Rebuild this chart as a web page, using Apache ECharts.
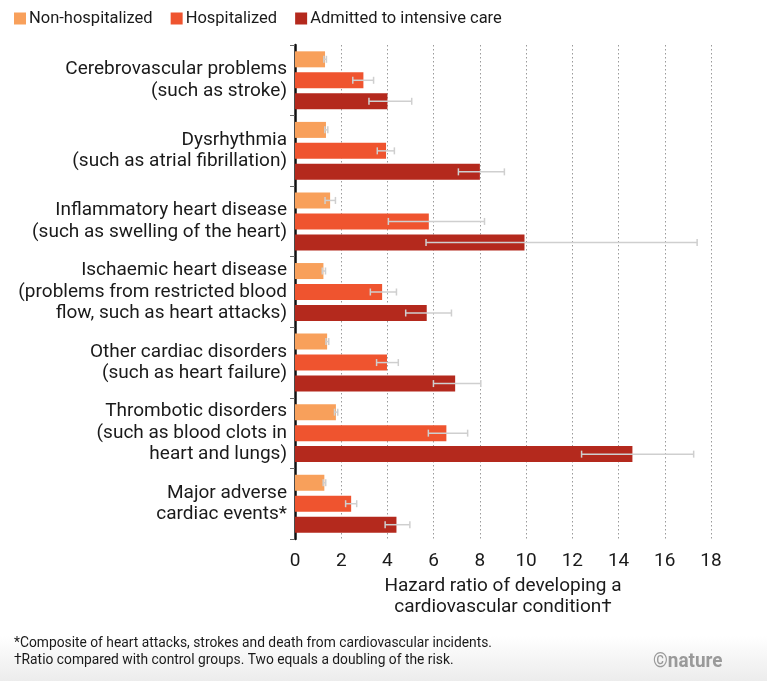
<!DOCTYPE html>
<html>
<head>
<meta charset="utf-8">
<script src="https://cdn.jsdelivr.net/npm/echarts@6/dist/echarts.min.js"></script>
<style>
  html, body { margin: 0; padding: 0; background: #fff; }
  #chart { width: 767px; height: 681px; }
</style>
</head>
<body>
<div id="chart"></div>
<script>
const categories = [
  "Cerebrovascular problems\n(such as stroke)",
  "Dysrhythmia\n(such as atrial fibrillation)",
  "Inflammatory heart disease\n(such as swelling of the heart)",
  "Ischaemic heart disease\n(problems from restricted blood\nflow, such as heart attacks)",
  "Other cardiac disorders\n(such as heart failure)",
  "Thrombotic disorders\n(such as blood clots in\nheart and lungs)",
  "Major adverse\ncardiac events*"
];

const seriesNames = ["Non-hospitalized", "Hospitalized", "Admitted to intensive care"];

const nonHosp   = [1.30, 1.34, 1.52, 1.23, 1.39, 1.77, 1.27];
const nonHospLo = [1.25, 1.29, 1.30, 1.18, 1.34, 1.71, 1.22];
const nonHospHi = [1.36, 1.42, 1.75, 1.32, 1.46, 1.85, 1.33];

const hosp   = [2.96, 3.94, 5.79, 3.77, 3.98, 6.55, 2.43];
const hospLo = [2.50, 3.56, 4.04, 3.26, 3.53, 5.77, 2.19];
const hospHi = [3.40, 4.30, 8.20, 4.39, 4.47, 7.47, 2.67];

const icu   = [4.00, 8.00, 9.93, 5.70, 6.93, 14.60, 4.39];
const icuLo = [3.20, 7.07, 5.67, 4.79, 5.99, 12.40, 3.90];
const icuHi = [5.05, 9.06, 17.40, 6.77, 8.04, 17.25, 4.97];

const xTicks = [0, 2, 4, 6, 8, 10, 12, 14, 16, 18];

const colors = ["#f8a05b", "#ef542f", "#b4291d"];
const font = "Roboto";
const barW = 16;
const gapPx = 5;

const chart = echarts.init(document.getElementById("chart"));

// error whiskers, offset to sit on the matching bar
function errorBars(slot) {
  return function (params, api) {
    const cat = api.value(0);
    const a = api.coord([api.value(1), cat]);
    const b = api.coord([api.value(2), cat]);
    const y = a[1] + (slot - 1) * (barW + gapPx);
    const cap = 3.5;
    const style = { stroke: "#cfcfcf", lineWidth: 1.5 };
    return {
      type: "group",
      children: [
        { type: "line", shape: { x1: a[0], y1: y, x2: b[0], y2: y }, style: style },
        { type: "line", shape: { x1: a[0], y1: y - cap, x2: a[0], y2: y + cap }, style: style },
        { type: "line", shape: { x1: b[0], y1: y - cap, x2: b[0], y2: y + cap }, style: style }
      ]
    };
  };
}

function errData(lo, hi) {
  return lo.map((v, i) => [i, v, hi[i]]);
}

const option = {
  animation: false,
  backgroundColor: "#fff",
  textStyle: { fontFamily: font },
  legend: {
    data: seriesNames,
    left: 9,
    top: 5,
    icon: "rect",
    itemWidth: 12,
    itemHeight: 12,
    itemGap: 18,
    textStyle: { fontFamily: font, fontSize: 16.5, color: "#1a1a1a", padding: [0, 0, 0, -2] }
  },
  grid: { left: 295, right: 56, top: 45, bottom: 142 },
  xAxis: {
    type: "value",
    min: 0,
    max: 18,
    interval: 2,
    axisLine: { show: false },
    axisTick: { show: false },
    axisLabel: {
      fontFamily: font, fontSize: 19, color: "#1a1a1a", margin: 13,
      formatter: v => (xTicks.indexOf(v) >= 0 ? String(v) : "")
    },
    splitLine: { show: true, lineStyle: { type: [1.5, 2.5], color: "#9a9a9a", width: 1 } },
    name: "Hazard ratio of developing a\ncardiovascular condition\u2020",
    nameLocation: "middle",
    nameGap: 34,
    nameTextStyle: { fontFamily: font, fontSize: 19, color: "#1a1a1a", lineHeight: 21, verticalAlign: "top" }
  },
  yAxis: {
    type: "category",
    data: categories,
    inverse: true,
    axisLine: { show: true, lineStyle: { color: "#111", width: 2.5 } },
    axisTick: { show: true, length: 5, inside: false, lineStyle: { color: "#666", width: 1 } },
    axisLabel: {
      fontFamily: font, fontSize: 19, color: "#1a1a1a", lineHeight: 21.5, margin: 8, align: "right"
    },
    splitLine: { show: false }
  },
  series: [
    { name: seriesNames[0], type: "bar", data: nonHosp, barWidth: barW, barGap: "31%", itemStyle: { color: colors[0] }, z: 2 },
    { name: seriesNames[1], type: "bar", data: hosp, barWidth: barW, barGap: "31%", itemStyle: { color: colors[1] }, z: 2 },
    { name: seriesNames[2], type: "bar", data: icu, barWidth: barW, barGap: "31%", itemStyle: { color: colors[2] }, z: 2 },
    { type: "custom", renderItem: errorBars(0), data: errData(nonHospLo, nonHospHi), encode: { x: [1, 2], y: 0 }, z: 3, silent: true },
    { type: "custom", renderItem: errorBars(1), data: errData(hospLo, hospHi), encode: { x: [1, 2], y: 0 }, z: 3, silent: true },
    { type: "custom", renderItem: errorBars(2), data: errData(icuLo, icuHi), encode: { x: [1, 2], y: 0 }, z: 3, silent: true }
  ],
  graphic: [
    {
      type: "rect", left: 0, top: 636, z: -10,
      shape: { width: 767, height: 45 },
      style: {
        fill: new echarts.graphic.LinearGradient(0, 0, 0, 1, [
          { offset: 0, color: "#ffffff" },
          { offset: 1, color: "#ececec" }
        ])
      }
    },
    {
      type: "text", x: 14, y: 635, scaleX: 0.92,
      style: {
        text: "*Composite of heart attacks, strokes and death from cardiovascular incidents.\n\u2020Ratio compared with control groups. Two equals a doubling of the risk.",
        font: "15px Roboto", fill: "#1a1a1a", lineHeight: 17
      }
    },
    {
      type: "text", x: 653, y: 651, scaleX: 0.9,
      style: { text: "\u00a9nature", font: "bold 21px Roboto", fill: "#9a9a9a" }
    }
  ]
};

chart.setOption(option);
</script>
</body>
</html>
